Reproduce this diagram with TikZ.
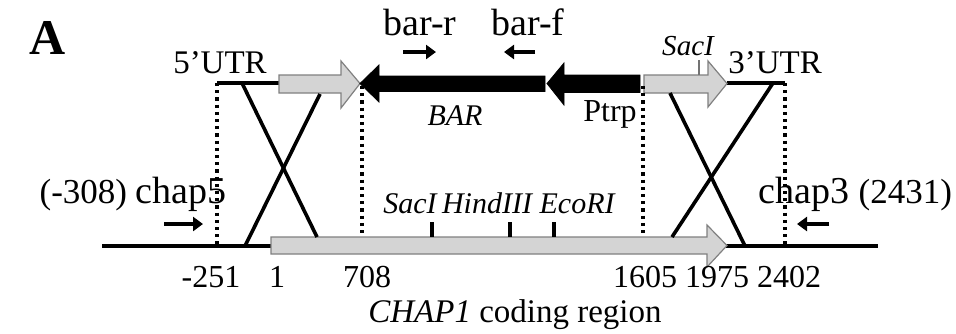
\documentclass[tikz,border=0pt]{standalone}
\usepackage{fontspec}
\setmainfont{Liberation Serif}
\usetikzlibrary{arrows.meta}
\begin{document}
\begin{tikzpicture}[x=0.5pt,y=-0.5pt,
  thickline/.style={line width=1.8pt},
  dotline/.style={line width=1.7pt, dash pattern=on 1.6pt off 2pt},
  grayarrow/.style={fill=black!17, draw=black!50, line width=0.6pt},
  blackarrow/.style={fill=black, draw=black, line width=0.4pt},
  primer/.style={line width=1.8pt, -{Triangle[length=5pt,width=7pt]}},
  tick/.style={line width=1.6pt},
  txt/.style={inner sep=0pt, anchor=base, font=\fontsize{16}{18}\selectfont},
  itxt/.style={inner sep=0pt, anchor=base, font=\fontsize{15}{17}\selectfont\itshape},
  bigtxt/.style={inner sep=0pt, anchor=base, font=\fontsize{19}{21}\selectfont},
]
\useasboundingbox (0,0) rectangle (956,333);

% ---- key coordinates ----
\coordinate (L0) at (102,246);
\coordinate (R0) at (878,246);
\coordinate (U5) at (217,83);
\coordinate (U3) at (785,83);
\coordinate (D5) at (217,246);
\coordinate (D3) at (785,246);
\coordinate (T708) at (362,86);
\coordinate (B708) at (362,236);
\coordinate (T1605) at (643,86);
\coordinate (B1605) at (643,236);
% crossover ends
\coordinate (xa1) at (242,83);
\coordinate (xa2) at (317,237);
\coordinate (xb1) at (320,94);
\coordinate (xb2) at (245,246);
\coordinate (xc1) at (670,93);
\coordinate (xc2) at (745,246);
\coordinate (xd1) at (773,83);
\coordinate (xd2) at (672,237);

% ---- bottom chromosome line ----
\draw[thickline] (L0) -- (R0);

% ---- CHAP1 coding region arrow ----
\draw[grayarrow] (271,237) -- (707,237) -- (707,225) -- (727,245.5) -- (707,267) -- (707,254) -- (271,254) -- cycle;

% ---- top construct ----
\draw[thickline] (U5) -- (279,83);
\draw[thickline] (727,83) -- (U3);
% left gray arrow
\draw[grayarrow] (279,75) -- (341,75) -- (341,61) -- (360,83.5) -- (341,108) -- (341,93) -- (279,93) -- cycle;
% BAR black arrow
\draw[blackarrow] (545,76) -- (379,76) -- (379,65) -- (360,83.5) -- (379,102) -- (379,91.5) -- (545,91.5) -- cycle;
% Ptrp black arrow
\draw[blackarrow] (640,75) -- (564,75) -- (564,63) -- (547,83.5) -- (564,105) -- (564,92.5) -- (640,92.5) -- cycle;
% right gray arrow
\draw[grayarrow] (644,75) -- (708,75) -- (708,61) -- (727,83.5) -- (708,107) -- (708,93) -- (644,93) -- cycle;
% SacI tick on right gray arrow
\draw[black!55, line width=0.7pt] (699,60) -- (699,75);

% ---- dotted boundaries ----
\draw[dotline] (U5) -- (D5);
\draw[dotline] (T708) -- (B708);
\draw[dotline] (T1605) -- (B1605);
\draw[dotline] (U3) -- (D3);

% ---- crossovers ----
\draw[thickline] (xa1) -- (xa2);
\draw[thickline] (xb1) -- (xb2);
\draw[thickline] (xc1) -- (xc2);
\draw[thickline] (xd1) -- (xd2);

% ---- restriction ticks ----
\coordinate (s1t) at (432,222); \coordinate (s1b) at (432,237);
\coordinate (s2t) at (510,222); \coordinate (s2b) at (510,237);
\coordinate (s3t) at (554,222); \coordinate (s3b) at (554,237);
\draw[tick] (s1t) -- (s1b);
\draw[tick] (s2t) -- (s2b);
\draw[tick] (s3t) -- (s3b);

% ---- primers ----
\coordinate (pr1a) at (403,52); \coordinate (pr1b) at (436,52);
\coordinate (pr2a) at (535,52); \coordinate (pr2b) at (504,52);
\coordinate (pr3a) at (164,224); \coordinate (pr3b) at (203,224);
\coordinate (pr4a) at (829,224); \coordinate (pr4b) at (797,224);
\draw[primer] (pr1a) -- (pr1b);
\draw[primer] (pr2a) -- (pr2b);
\draw[primer] (pr3a) -- (pr3b);
\draw[primer] (pr4a) -- (pr4b);

% ---- labels ----
\node[inner sep=0pt, anchor=base west, font=\fontsize{25}{27}\selectfont\bfseries] (lA) at (29,54) {A};
\node[txt, font=\fontsize{16.5}{18}\selectfont] (l5utr) at (220,73) {5’UTR};
\node[txt, font=\fontsize{16.5}{18}\selectfont] (l3utr) at (775,73) {3’UTR};
\node[bigtxt] (lbarr) at (420,35) {bar-r};
\node[bigtxt] (lbarf) at (528,35) {bar-f};
\node[itxt] (lBAR) at (455,125) {BAR};
\node[txt] (lPtrp) at (610,121) {Ptrp};
\node[itxt, font=\fontsize{14.5}{16}\selectfont\itshape] (lsac1) at (688,55) {SacI};
\node[itxt, anchor=base west] (lsac2) at (383,213) {SacI};
\node[itxt, anchor=base] (lhind) at (487,213) {HindIII};
\node[itxt, anchor=base east] (leco) at (615,213) {EcoRI};
\node[inner sep=0pt, anchor=base east] (lchap5) at (227,203) {\fontsize{17.5}{19}\selectfont(-308) \fontsize{19}{21}\selectfont chap5};
\node[inner sep=0pt, anchor=base west] (lchap3) at (758,203) {\fontsize{19}{21}\selectfont chap3 \fontsize{17.5}{19}\selectfont(2431)};
\node[txt] (n251) at (211,287) {-251};
\node[txt] (n1) at (277,287) {1};
\node[txt] (n708) at (367,287) {708};
\node[txt] (n1605) at (645,287) {1605};
\node[txt] (n1975) at (717,287) {1975};
\node[txt] (n2402) at (789,287) {2402};
\node[txt, font=\fontsize{16.5}{18}\selectfont] (lcod) at (515,322) {\textit{CHAP1} coding region};
\end{tikzpicture}
\end{document}
